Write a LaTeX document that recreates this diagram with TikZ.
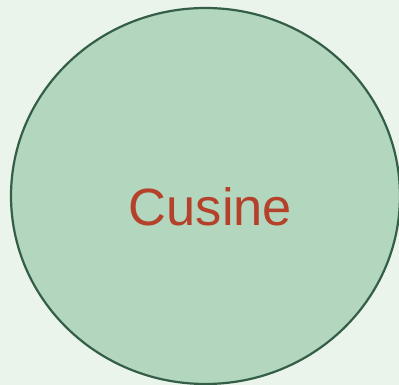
\documentclass[tikz,border=0pt]{standalone}
\usepackage{fontspec}
\setmainfont{Liberation Sans}
\usepackage{tikz}
\usetikzlibrary{positioning, shapes.geometric}
\definecolor{mintbg}{HTML}{EAF4EA}
\definecolor{sage}{HTML}{B2D6BE}
\definecolor{pine}{HTML}{355E48}
\definecolor{rust}{HTML}{B5412A}

\begin{document}
\begin{tikzpicture}[
    x=1pt, y=1pt,
    % Estilo del circulo
    topic/.style={
        ellipse, draw=pine, fill=sage, line width=2.2pt,
        inner sep=0pt, minimum width=389pt, minimum height=376pt
    },
    % Estilo del texto
    label/.style={
        text=rust, font=\fontsize{52.4}{60}\selectfont,
        inner sep=0pt, anchor=base
    }
]

    % 1. Fondo
    \fill[mintbg] (0,0) rectangle (399,385);
    \useasboundingbox (0,0) rectangle (399,385);

    % 2. Circulo
    \node[topic] (cusine) at (205.5, 189) {};

    % 3. Texto
    \node[label] (cusinetxt) at (210.5, 159.5) {Cusine};

\end{tikzpicture}
\end{document}
